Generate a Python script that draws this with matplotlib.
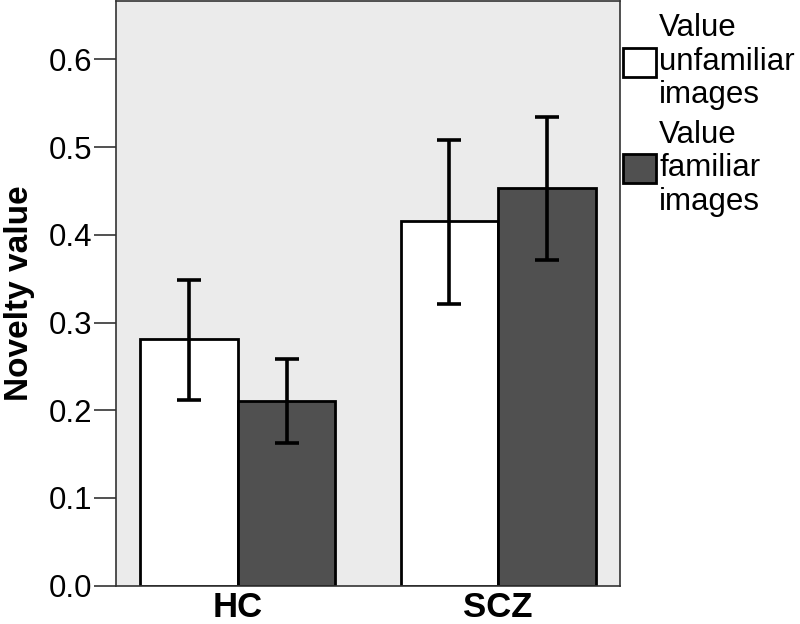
import matplotlib
matplotlib.use("Agg")
import matplotlib.pyplot as plt
import numpy as np

plt.rcParams['font.family'] = ['Liberation Sans', 'DejaVu Sans']

groups = ["HC", "SCZ"]
series = ["Value\nunfamiliar\nimages", "Value\nfamiliar\nimages"]
means = {
    "unfamiliar": [0.281, 0.416],
    "familiar": [0.211, 0.453],
}
err_low = {
    "unfamiliar": [0.212, 0.321],
    "familiar": [0.163, 0.371],
}
err_high = {
    "unfamiliar": [0.349, 0.508],
    "familiar": [0.259, 0.534],
}
yticks = [0.0, 0.1, 0.2, 0.3, 0.4, 0.5, 0.6]

fig = plt.figure(figsize=(8, 6.24), dpi=100)
ax = fig.add_axes([116 / 800, 38.3 / 624, 504 / 800, 584.2 / 624])
ax.set_facecolor('#ebebeb')

x = np.arange(len(groups))
w = 0.375
colors = ['white', '#505050']
keys = ["unfamiliar", "familiar"]
for i, k in enumerate(keys):
    pos = x + (i - 0.5) * w
    m = np.array(means[k])
    lo = m - np.array(err_low[k])
    hi = np.array(err_high[k]) - m
    ax.bar(pos, m, width=w, color=colors[i], edgecolor='black', linewidth=2,
           label=series[i], zorder=2)
    ax.errorbar(pos, m, yerr=[lo, hi], fmt='none', ecolor='black',
                elinewidth=2.6, capsize=8.3, capthick=2.6, zorder=3)

ax.set_xlim(-0.469, 1.469)
ax.set_ylim(0, 0.666)
ax.set_yticks(yticks)
ax.set_yticklabels([f"{t:.1f}" for t in yticks], fontsize=22.5)
ax.set_xticks(x)
ax.set_xticklabels(groups, fontsize=25, fontweight='bold')
ax.tick_params(axis='x', length=0, pad=4)
ax.tick_params(axis='y', length=16, width=1.2, color='#333333', pad=1)
ax.set_ylabel("Novelty value", fontsize=24, fontweight='bold', labelpad=10)
for s in ax.spines.values():
    s.set_color('#333333')
    s.set_linewidth(1.2)

leg = ax.legend(loc='upper left', bbox_to_anchor=(1.0, 0.985), frameon=False,
                fontsize=22.5, handlelength=1.05, handleheight=1.05,
                handletextpad=0.1, labelspacing=0.3, borderaxespad=0.0,
                borderpad=0.1)
for t in leg.get_texts():
    t.set_linespacing(1.15)

fig.savefig("out.png", dpi=100)
